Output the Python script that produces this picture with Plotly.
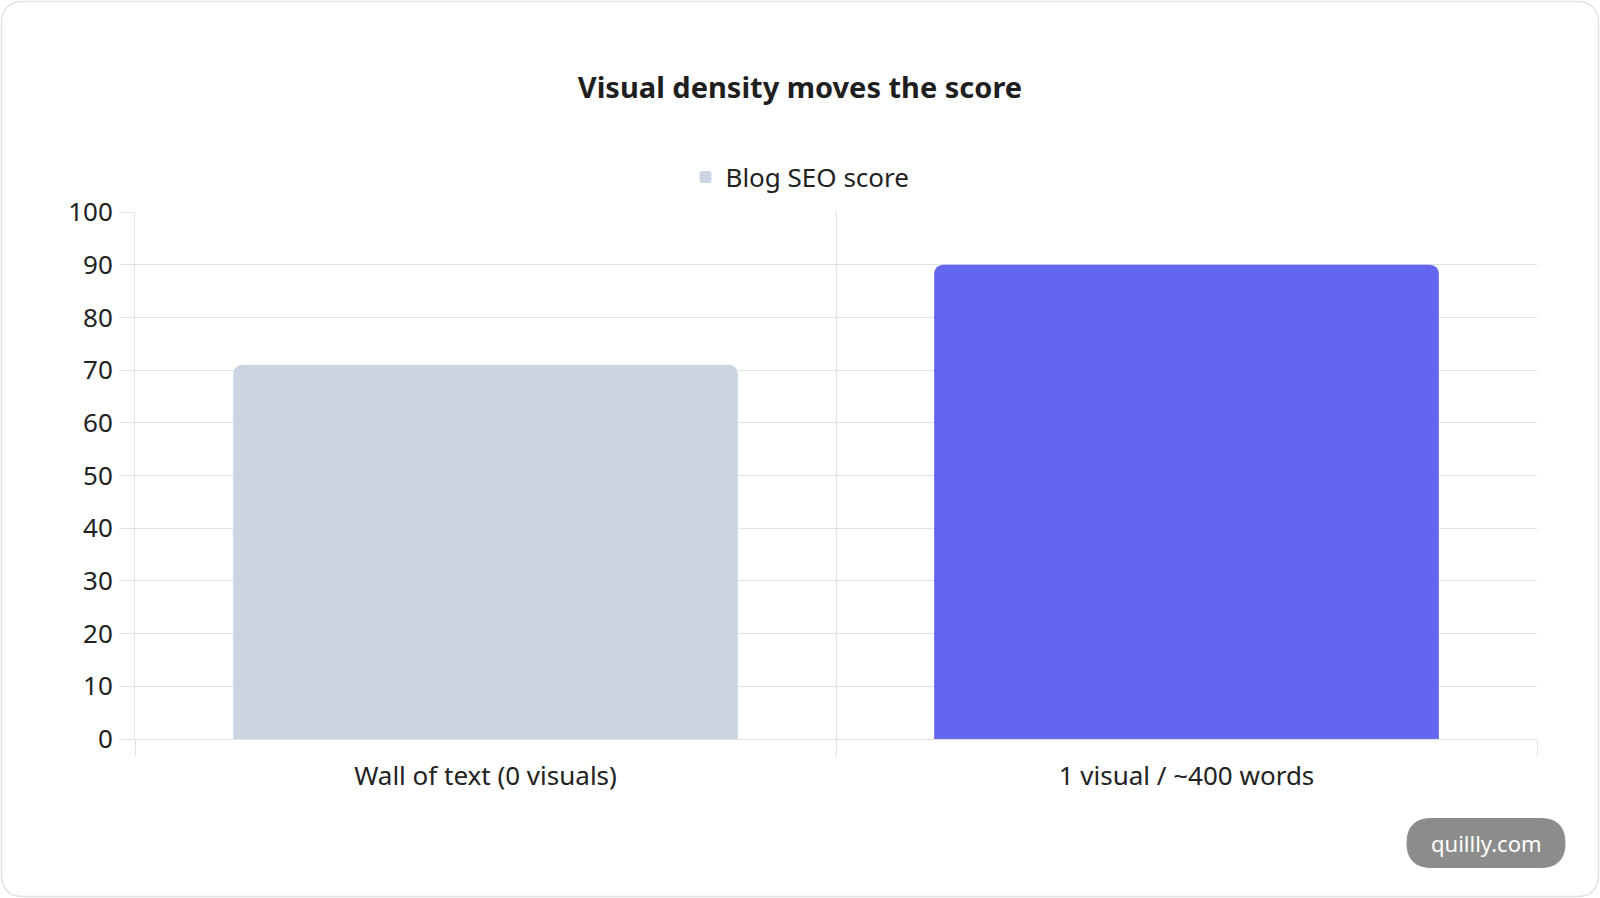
import plotly.graph_objects as go

categories = ["Wall of text (0 visuals)", "1 visual / ~400 words"]
scores = [71, 90]
bar_colors = ["#cbd5e1", "#6366f1"]
y_ticks = [0, 10, 20, 30, 40, 50, 60, 70, 80, 90, 100]

W, H = 1600, 898
ML, MR, MT, MB = 135, 63, 212, 159
PW, PH = W - ML - MR, H - MT - MB

def px_x(x):
    return (x - ML) / PW

def px_y(y):
    return (H - MB - y) / PH

def rounded_rect(w, h, r):
    hw, hh = w / 2, h / 2
    return (f"M{-hw + r},{-hh} L{hw - r},{-hh} Q{hw},{-hh} {hw},{-hh + r} "
            f"L{hw},{hh - r} Q{hw},{hh} {hw - r},{hh} L{-hw + r},{hh} "
            f"Q{-hw},{hh} {-hw},{hh - r} L{-hw},{-hh + r} Q{-hw},{-hh} {-hw + r},{-hh} Z")

FONT = "Noto Sans"
GRID = "#e2e2e2"
TXT = "#222222"

fig = go.Figure()
fig.add_trace(go.Bar(
    x=categories, y=scores, name="Blog SEO score",
    marker=dict(color=bar_colors, line=dict(width=0)),
    width=0.72, showlegend=True,
))

fig.update_layout(
    width=W, height=H,
    margin=dict(l=ML, r=MR, t=MT, b=MB),
    paper_bgcolor="white", plot_bgcolor="white",
    font=dict(family=FONT, color=TXT, size=25),
    barcornerradius=9,
    title=dict(text="<b>Visual density moves the score</b>", x=0.5, xanchor="center",
               y=1 - 88 / H, yanchor="middle",
               font=dict(family=FONT, size=29, color="#1f1f1f")),
    legend=dict(orientation="h", x=0.5 - 36 / PW, xanchor="center", y=px_y(177), yanchor="middle",
                font=dict(size=26, color=TXT)),
    xaxis=dict(type="category", tickson="boundaries", showgrid=True, gridcolor=GRID, gridwidth=1,
               ticks="outside", ticklen=16, tickcolor=GRID, showline=True, linecolor=GRID,
               tickfont=dict(size=26, color=TXT), zeroline=False, ticklabelstandoff=14),
    yaxis=dict(range=[0, 100], tickvals=y_ticks, showgrid=True, gridcolor=GRID, gridwidth=1,
               ticks="outside", ticklen=15, tickcolor=GRID, showline=True, linecolor=GRID,
               tickfont=dict(size=26, color=TXT), zeroline=False, ticklabelstandoff=1),
)

# card border
fig.add_shape(type="path", xref="paper", yref="paper", xsizemode="pixel", ysizemode="pixel",
              xanchor=px_x(W / 2), yanchor=px_y(H / 2), path=rounded_rect(W - 3, H - 3, 22),
              line=dict(color="#e2e2e2", width=1.5), fillcolor="rgba(0,0,0,0)", layer="below")
# watermark pill
fig.add_shape(type="path", xref="paper", yref="paper", xsizemode="pixel", ysizemode="pixel",
              xanchor=px_x(1486), yanchor=px_y(843), path=rounded_rect(158, 49, 24.5),
              line=dict(color="#8a8a8a", width=1), fillcolor="#8c8c8c", layer="above")
fig.add_annotation(text="quillly.com", xref="paper", yref="paper", x=px_x(1486), y=px_y(843),
                   xanchor="center", yanchor="middle", showarrow=False,
                   font=dict(family=FONT, size=22, color="white"))

fig.write_html("out.html", config={"displayModeBar": False},
               post_script="document.body.style.margin='0px';")
